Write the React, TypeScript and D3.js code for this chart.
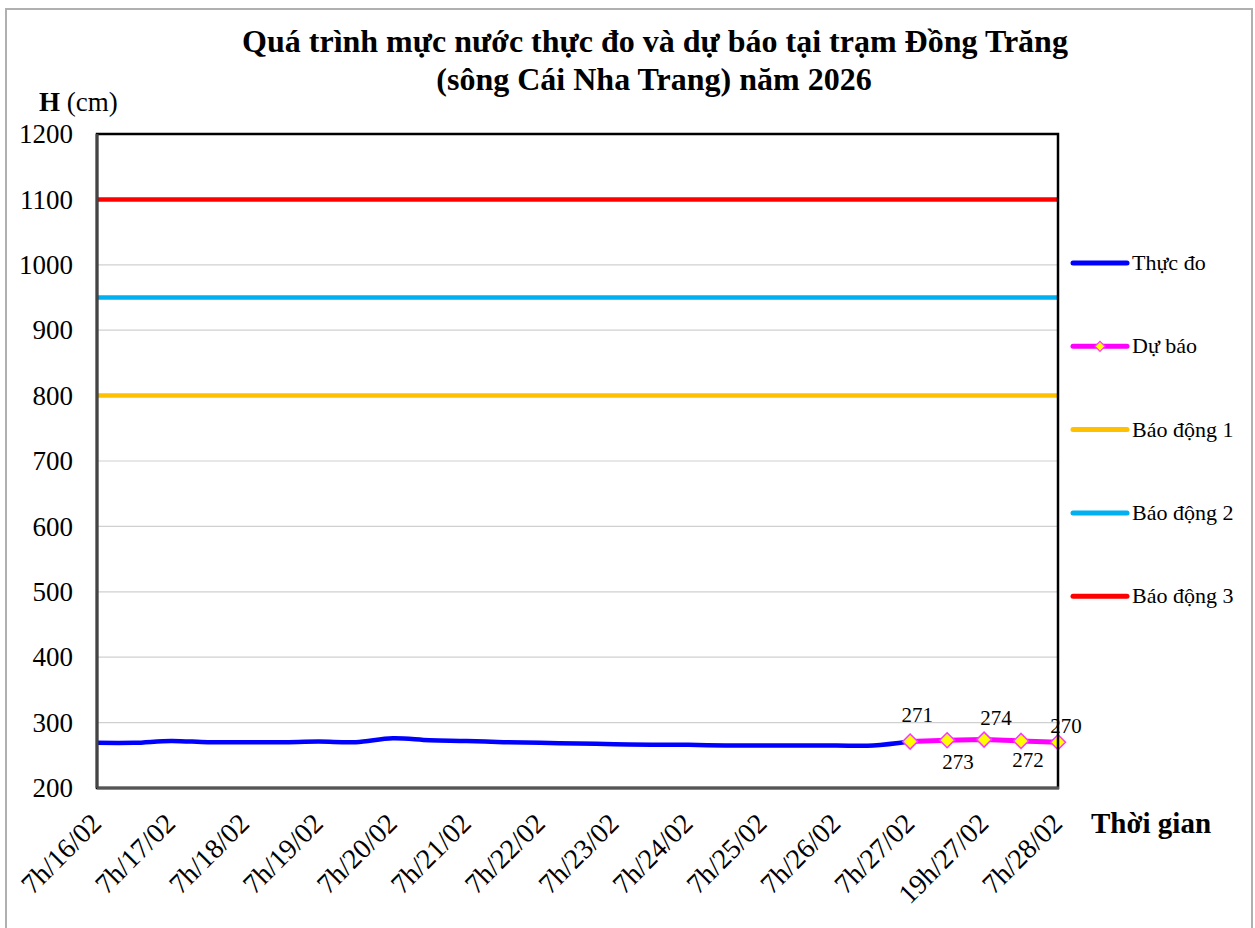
import * as d3 from "d3";

// 12h steps to 7h/27, then 6h steps for the forecast window
const categories = [
  "7h/16/02", "19h/16/02", "7h/17/02", "19h/17/02", "7h/18/02", "19h/18/02",
  "7h/19/02", "19h/19/02", "7h/20/02", "19h/20/02", "7h/21/02", "19h/21/02",
  "7h/22/02", "19h/22/02", "7h/23/02", "19h/23/02", "7h/24/02", "19h/24/02",
  "7h/25/02", "19h/25/02", "7h/26/02", "19h/26/02", "7h/27/02", "13h/27/02",
  "19h/27/02", "1h/28/02", "7h/28/02",
];
const shownTicks = categories.filter((_, i) => i % 2 === 0);

const observed = [
  269, 269, 272, 270, 270, 270, 271, 270, 276, 273, 272, 270,
  269, 268, 267, 266, 266, 265, 265, 265, 265, 265, 271,
];
const forecast = [271, 273, 274, 272, 270];
const forecastStart = 22;

const alarm1 = 800;
const alarm2 = 950;
const alarm3 = 1100;

const yTicks = [200, 300, 400, 500, 600, 700, 800, 900, 1000, 1100, 1200];

// label offsets (dx, dy from the point), as Excel placed them
const labelOffsets = [
  [7, -20], [11, 29], [12, -15], [7, 26], [8, -9],
];

const legendItems = [
  { name: "Thực đo", color: "#0000ff", marker: false },
  { name: "Dự báo", color: "#ff00ff", marker: true },
  { name: "Báo động 1", color: "#ffc000", marker: false },
  { name: "Báo động 2", color: "#00b0f0", marker: false },
  { name: "Báo động 3", color: "#ff0000", marker: false },
];

const W = 1255;
const H = 928;
const plot = { left: 97, right: 1058, top: 134, bottom: 788 };
const font = "'Liberation Serif', 'Times New Roman', serif";

function diamond(cx: number, cy: number, r: number) {
  return `M${cx},${cy - r}L${cx + r},${cy}L${cx},${cy + r}L${cx - r},${cy}Z`;
}

export default function App() {
  const x = d3.scalePoint<string>().domain(categories).range([plot.left, plot.right]);
  const y = d3.scaleLinear().domain([200, 1200]).range([plot.bottom, plot.top]);

  const obsLine = d3
    .line<number>()
    .x((_, i) => x(categories[i])!)
    .y((d) => y(d))
    .curve(d3.curveCatmullRom.alpha(0.5));

  const fcLine = d3
    .line<number>()
    .x((_, i) => x(categories[forecastStart + i])!)
    .y((d) => y(d));

  const alarms = [
    { v: alarm1, color: "#ffc000" },
    { v: alarm2, color: "#00b0f0" },
    { v: alarm3, color: "#ff0000" },
  ];

  return (
    <svg
      width={W}
      height={H}
      style={{ position: "absolute", left: 0, top: 0, background: "#fff" }}
      fontFamily={font}
    >
      <rect x={6} y={9} width={1246} height={940} fill="#fff" stroke="#b0b0b0" strokeWidth={2} />

      <text x={655} y={52} textAnchor="middle" fontSize={32} fontWeight="bold">
        Quá trình mực nước thực đo và dự báo tại trạm Đồng Trăng
      </text>
      <text x={654} y={90} textAnchor="middle" fontSize={32} fontWeight="bold">
        (sông Cái Nha Trang) năm 2026
      </text>

      <text x={39} y={111} fontSize={27}>
        <tspan fontWeight="bold">H</tspan> (cm)
      </text>

      {/* gridlines */}
      {yTicks.map((t) => (
        <g key={t}>
          <line x1={plot.left} x2={plot.right} y1={y(t)} y2={y(t)} stroke="#d0d0d0" strokeWidth={1.2} />
          <text x={73} y={y(t)} dy="0.34em" textAnchor="end" fontSize={27}>
            {t}
          </text>
        </g>
      ))}

      {/* alarm levels */}
      {alarms.map((a) => (
        <line key={a.v} x1={plot.left} x2={plot.right} y1={y(a.v)} y2={y(a.v)} stroke={a.color} strokeWidth={4.5} />
      ))}

      <path d={obsLine(observed) ?? ""} fill="none" stroke="#0000ff" strokeWidth={4.5} strokeLinejoin="round" />
      <path d={fcLine(forecast) ?? ""} fill="none" stroke="#ff00ff" strokeWidth={5} />
      {forecast.map((v, i) => {
        const cx = x(categories[forecastStart + i])!;
        return <path key={i} d={diamond(cx, y(v), 7.5)} fill="#ffff00" stroke="#ff33ff" strokeWidth={1.5} />;
      })}
      {forecast.map((v, i) => {
        const cx = x(categories[forecastStart + i])!;
        const [dx, dy] = labelOffsets[i];
        return (
          <text key={`l${i}`} x={cx + dx} y={y(v) + dy} textAnchor="middle" fontSize={21}>
            {v}
          </text>
        );
      })}

      {/* plot frame */}
      <rect
        x={plot.left}
        y={plot.top}
        width={plot.right - plot.left}
        height={plot.bottom - plot.top}
        fill="none"
        stroke="#000"
        strokeWidth={2.5}
      />
      <line x1={plot.left} x2={plot.right + 1} y1={plot.bottom} y2={plot.bottom} stroke="#555" strokeWidth={3} />
      <line x1={plot.left} x2={plot.left} y1={plot.top} y2={plot.bottom} stroke="#444" strokeWidth={3} />

      {shownTicks.map((c) => (
        <text key={c} transform={`translate(${x(c)! + 6},${825}) rotate(-45)`} textAnchor="end" fontSize={28}>
          {c}
        </text>
      ))}

      <text x={1091} y={833} fontSize={29} fontWeight="bold">
        Thời gian
      </text>

      {/* legend */}
      {legendItems.map((it, i) => {
        const ly = 263 + i * 83.3;
        return (
          <g key={it.name}>
            <line x1={1073} x2={1127} y1={ly} y2={ly} stroke={it.color} strokeWidth={5} strokeLinecap="round" />
            {it.marker && <path d={diamond(1100, ly, 5)} fill="#ffff00" stroke="#ff33ff" strokeWidth={1.2} />}
            <text x={1132} y={ly + 7} fontSize={22}>
              {it.name}
            </text>
          </g>
        );
      })}
    </svg>
  );
}
